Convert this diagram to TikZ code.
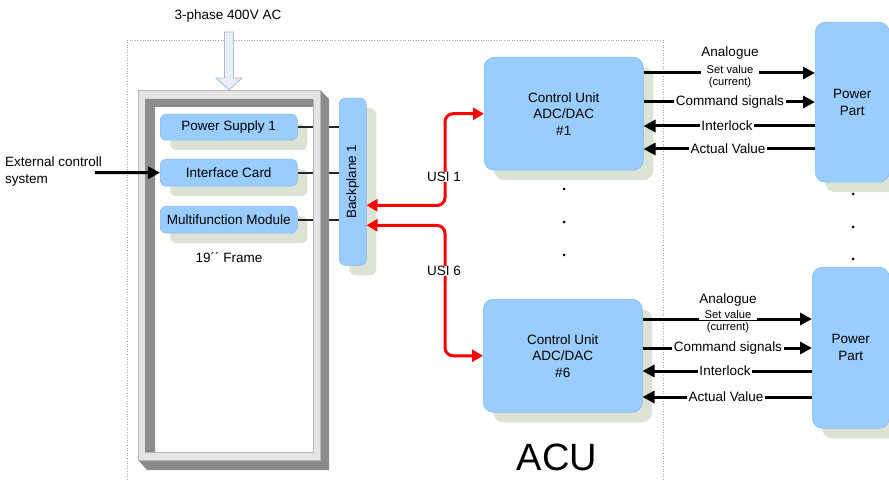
\documentclass[tikz,border=0pt]{standalone}
\usepackage{fontspec}
\setmainfont{Liberation Sans}
\usetikzlibrary{shadows,arrows.meta,calc}
\definecolor{boxblue}{HTML}{99CCFF}
\definecolor{boxedge}{HTML}{86B9EC}
\definecolor{boxshade}{HTML}{DDE3D4}
\definecolor{framelight}{HTML}{E4E4E4}
\definecolor{framedark}{HTML}{8C8C8C}
\definecolor{frameedge}{HTML}{B8B8B8}
\definecolor{feedfill}{HTML}{E8EEF7}
\definecolor{feededge}{HTML}{AABBD2}
\begin{document}
\begin{tikzpicture}[x=1pt,y=-1pt]
\tikzset{
  blk/.style={draw=boxedge, line width=0.5, fill=boxblue, rounded corners=6, inner sep=0,
    font=\fontsize{13.5}{16.5}\selectfont, align=center,
    drop shadow={shadow xshift=10pt, shadow yshift=-10pt, fill=boxshade, opacity=1}},
  bigblk/.style={blk, rounded corners=10},
  link/.style={line width=2, draw=black!85},
  sig/.style={line width=3, -{Triangle[length=12pt,width=12pt]}},
  usi/.style={line width=3, draw=red, rounded corners=8,
    {Triangle[length=11pt,width=12pt]}-{Triangle[length=11pt,width=12pt]}},
  tag/.style={fill=white, inner xsep=1.5, inner ysep=0.5, font=\fontsize{13.5}{16}\selectfont},
  plain/.style={inner sep=0, font=\fontsize{13.5}{16}\selectfont},
  small/.style={inner sep=0, font=\fontsize{11.2}{13}\selectfont},
  dotmark/.style={circle, fill=black, inner sep=0, minimum size=3},
}
\useasboundingbox (0,0) rectangle (889,481);

% ACU enclosure
\draw[dotted, gray!70, line width=0.6] (127,495) -- (127,40) -- (663,40) -- (663,495);
\node[inner sep=0, font=\fontsize{38}{42}\selectfont] (acu) at (557,457) {ACU};

% mains feed
\node[plain] (mains) at (228,16) {3-phase 400V AC};
\filldraw[fill=feedfill, draw=feededge, line width=0.8]
  (224.5,32) -- (233.5,32) -- (233.5,78) -- (242,78) -- (229,90) -- (216,78) -- (224.5,78) -- cycle;

% plug-in cards
\node[blk, minimum width=137, minimum height=26, anchor=north west] (ps) at (160,114) {Power Supply 1};
\node[blk, minimum width=137, minimum height=27, anchor=north west] (ic) at (160,159) {Interface Card};
\node[blk, minimum width=137, minimum height=27, anchor=north west] (mm) at (160,206) {Multifunction Module};
\node[blk, minimum width=27, minimum height=167, anchor=north west] (bp) at (339,98) {\rotatebox{90}{Backplane 1}};

% card to backplane wiring
\draw[link] (ps.east) -- (ps.east -| bp.west);
\draw[link] (ic.east) -- (ic.east -| bp.west);
\draw[link] (mm.east) -- (mm.east -| bp.west);

% 19'' frame (3D)
\fill[framedark] (320,90) -- (329,99) -- (329,470) -- (147,470) -- (138,460) -- (320,460) -- cycle;
\filldraw[fill=framelight, draw=frameedge, line width=0.6, even odd rule]
  (138,90) rectangle (320,460) (145,99) rectangle (313,452);
\fill[framedark] (145,99) -- (313,99) -- (313,107) -- (155,107) -- (155,452) -- (145,452) -- cycle;
\node[plain] (frame) at (229,258) {19´´ Frame};

% external control input
\node[inner sep=0, anchor=west, align=left, font=\fontsize{13.5}{17}\selectfont] (ext) at (5,171.5) {External controll\\system};
\coordinate (extsrc) at (95,172.5);
\draw[sig] (extsrc) -- (ic.west);

% control units
\node[bigblk, minimum width=159, minimum height=113, anchor=north west] (cu1) at (484,57) {Control Unit\\ADC/DAC\\\#1};
\node[bigblk, minimum width=159, minimum height=113, anchor=north west] (cu6) at (483,299) {Control Unit\\ADC/DAC\\\#6};
\node[dotmark] (d1) at (564,189) {};
\node[dotmark] (d2) at (564,222) {};
\node[dotmark] (d3) at (564,255) {};

% power parts
\node[bigblk, minimum width=74, minimum height=160, anchor=north west, font=\fontsize{13.5}{17}\selectfont] (pp1) at (815,22) {Power\\Part};
\node[bigblk, minimum width=77, minimum height=161, anchor=north west, font=\fontsize{13.5}{17}\selectfont] (pp6) at (812,267) {Power\\Part};
\node[dotmark] (e1) at (853,194) {};
\node[dotmark] (e2) at (853,227) {};
\node[dotmark] (e3) at (853,259) {};

% USI links
\draw[usi] ($(bp.east)+(0,23.5)$) -- (445,205.5) |- (cu1.west);
\draw[usi] ($(bp.east)+(0,43.5)$) -- (445,225.5) |- (cu6.west);
\node[tag] (usi1) at (444,177) {USI 1};
\node[tag] (usi6) at (444,271) {USI 6};

% signals, unit 1
\draw[sig] (cu1.east |- 0,73) -- (pp1.west |- 0,73);
\draw[sig] (cu1.east |- 0,102) -- (pp1.west |- 0,102);
\draw[sig] (pp1.west |- 0,126) -- (cu1.east |- 0,126);
\draw[sig] (pp1.west |- 0,149) -- (cu1.east |- 0,149);
\node[plain] (an1) at (730,53) {Analogue};
\node[small, fill=white, inner xsep=6, inner ysep=1] (sv1) at (730,69.5) {Set value};
\node[small] (cur1) at (730,82.5) {(current)};
\node[tag] (cmd1) at (730,102) {Command signals};
\node[tag] (il1) at (727,126) {Interlock};
\node[tag] (av1) at (728,149) {Actual Value};

% signals, unit 6
\draw[sig] (cu6.east |- 0,319) -- (pp6.west |- 0,319);
\draw[sig] (cu6.east |- 0,348) -- (pp6.west |- 0,348);
\draw[sig] (pp6.west |- 0,371) -- (cu6.east |- 0,371);
\draw[sig] (pp6.west |- 0,397) -- (cu6.east |- 0,397);
\node[plain] (an6) at (728,300) {Analogue};
\node[small, fill=white, inner xsep=6, inner ysep=1] (sv6) at (728,314.5) {Set value};
\node[small] (cur6) at (728,328) {(current)};
\node[tag] (cmd6) at (728,348) {Command signals};
\node[tag] (il6) at (725,371) {Interlock};
\node[tag] (av6) at (726,397) {Actual Value};
\end{tikzpicture}
\end{document}
